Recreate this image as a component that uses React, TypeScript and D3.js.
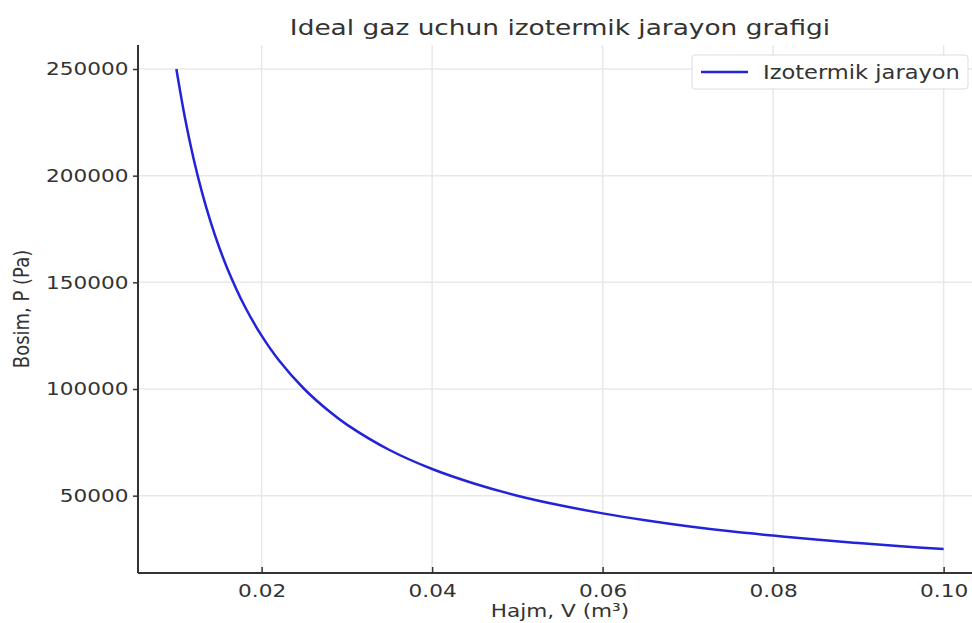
import React, { useEffect, useRef } from "react";
import * as d3 from "d3";

// (volume in m³, pressure in Pa)
const volumes = [0.01, 0.011, 0.012, 0.013, 0.014, 0.015, 0.016, 0.018, 0.02, 0.022, 0.025, 0.028, 0.03, 0.035, 0.04, 0.045, 0.05, 0.055, 0.06, 0.065, 0.07, 0.075, 0.08, 0.085, 0.09, 0.095, 0.1];
const pressures = [250000, 227300, 208300, 192300, 178600, 166700, 156300, 138900, 125000, 113600, 100000, 89300, 83300, 71400, 62500, 55600, 50000, 45500, 41700, 38500, 35700, 33300, 31300, 29400, 27800, 26300, 25000];

const xTicks = [0.02, 0.04, 0.06, 0.08, 0.1];
const xTickLabels = ["0.02", "0.04", "0.06", "0.08", "0.10"];
const yTicks = [50000, 100000, 150000, 200000, 250000];

const W = 972;
const H = 623;
const FONT = "DejaVu Sans, sans-serif";
const SX = 1.2; // the reference text is a bit wide

const App = () => {
  const svgRef = useRef<SVGSVGElement>(null);

  useEffect(() => {
    const svg = d3.select(svgRef.current);
    svg.selectAll("*").remove();

    const left = 138;
    const right = 982;
    const top = 45;
    const bottom = 573;

    const xMin = d3.min(volumes)!;
    const xMax = d3.max(volumes)!;
    const yMin = d3.min(pressures)!;
    const yMax = d3.max(pressures)!;
    const xPad = (xMax - xMin) * 0.05;
    const yPad = (yMax - yMin) * 0.05;

    const x = d3.scaleLinear().domain([xMin - xPad, xMax + xPad]).range([left, right]);
    const y = d3.scaleLinear().domain([yMin - yPad, yMax + yPad]).range([bottom, top]);

    // grid
    svg.append("g")
      .selectAll("line")
      .data(xTicks)
      .join("line")
      .attr("x1", (d) => x(d))
      .attr("x2", (d) => x(d))
      .attr("y1", top)
      .attr("y2", bottom)
      .attr("stroke", "#e8e8e8")
      .attr("stroke-width", 1.5);
    svg.append("g")
      .selectAll("line")
      .data(yTicks)
      .join("line")
      .attr("x1", left)
      .attr("x2", right)
      .attr("y1", (d) => y(d))
      .attr("y2", (d) => y(d))
      .attr("stroke", "#e8e8e8")
      .attr("stroke-width", 1.5);

    // curve
    const pts = volumes.map((v, i) => [v, pressures[i]] as [number, number]);
    const line = d3
      .line<[number, number]>()
      .x((d) => x(d[0]))
      .y((d) => y(d[1]))
      .curve(d3.curveCatmullRom.alpha(0.5));
    svg.append("path")
      .datum(pts)
      .attr("d", line)
      .attr("fill", "none")
      .attr("stroke", "#2323d8")
      .attr("stroke-width", 2.5);

    // axes
    const xAxis = d3
      .axisBottom(x)
      .tickValues(xTicks)
      .tickFormat((d, i) => xTickLabels[i])
      .tickSizeInner(-6)
      .tickSizeOuter(0)
      .tickPadding(11);
    const gx = svg.append("g").attr("transform", `translate(0,${bottom})`).call(xAxis);
    const yAxis = d3
      .axisLeft(y)
      .tickValues(yTicks)
      .tickFormat(d3.format("d"))
      .tickSizeInner(5)
      .tickSizeOuter(0)
      .tickPadding(3);
    const gy = svg.append("g").attr("transform", `translate(${left},0)`).call(yAxis);

    [gx, gy].forEach((g) => {
      g.select(".domain").attr("stroke", "#333").attr("stroke-width", 2);
      g.selectAll(".tick line").attr("stroke", "#333").attr("stroke-width", 1.5);
      g.selectAll(".tick text")
        .attr("fill", "#333")
        .attr("transform", `scale(${SX},1)`)
        .style("font-family", FONT)
        .style("font-size", "18px");
    });
    gx.select(".domain").attr("d", `M${left},0H${W}`);
    gy.select(".domain").attr("d", `M0,${top}V${bottom}`);

    // labels
    const hText = (tx: number, ty: number, size: number, s: string) =>
      svg.append("text")
        .attr("transform", `translate(${tx},${ty}) scale(${SX},1)`)
        .attr("text-anchor", "middle")
        .attr("fill", "#333")
        .style("font-family", FONT)
        .style("font-size", `${size}px`)
        .text(s);
    hText((left + right) / 2, 35, 22, "Ideal gaz uchun izotermik jarayon grafigi");
    hText((left + right) / 2, 617, 18, "Hajm, V (m³)");
    svg.append("text")
      .attr("transform", `translate(29,${(top + bottom) / 2}) scale(${SX},1) rotate(-90)`)
      .attr("text-anchor", "middle")
      .attr("fill", "#333")
      .style("font-family", FONT)
      .style("font-size", "18px")
      .text("Bosim, P (Pa)");

    // legend
    const lg = svg.append("g").attr("transform", "translate(692,55)");
    lg.append("rect")
      .attr("width", 276)
      .attr("height", 34)
      .attr("rx", 3)
      .attr("fill", "white")
      .attr("stroke", "#dddddd");
    lg.append("line")
      .attr("x1", 9)
      .attr("x2", 56)
      .attr("y1", 17)
      .attr("y2", 17)
      .attr("stroke", "#2323d8")
      .attr("stroke-width", 2.5);
    lg.append("text")
      .attr("transform", `translate(71,24) scale(${SX},1)`)
      .attr("fill", "#333")
      .style("font-family", FONT)
      .style("font-size", "18.8px")
      .text("Izotermik jarayon");
  }, []);

  return (
    <svg
      ref={svgRef}
      width={W}
      height={H}
      style={{ position: "absolute", left: 0, top: 0, background: "white" }}
    />
  );
};

export default App;
